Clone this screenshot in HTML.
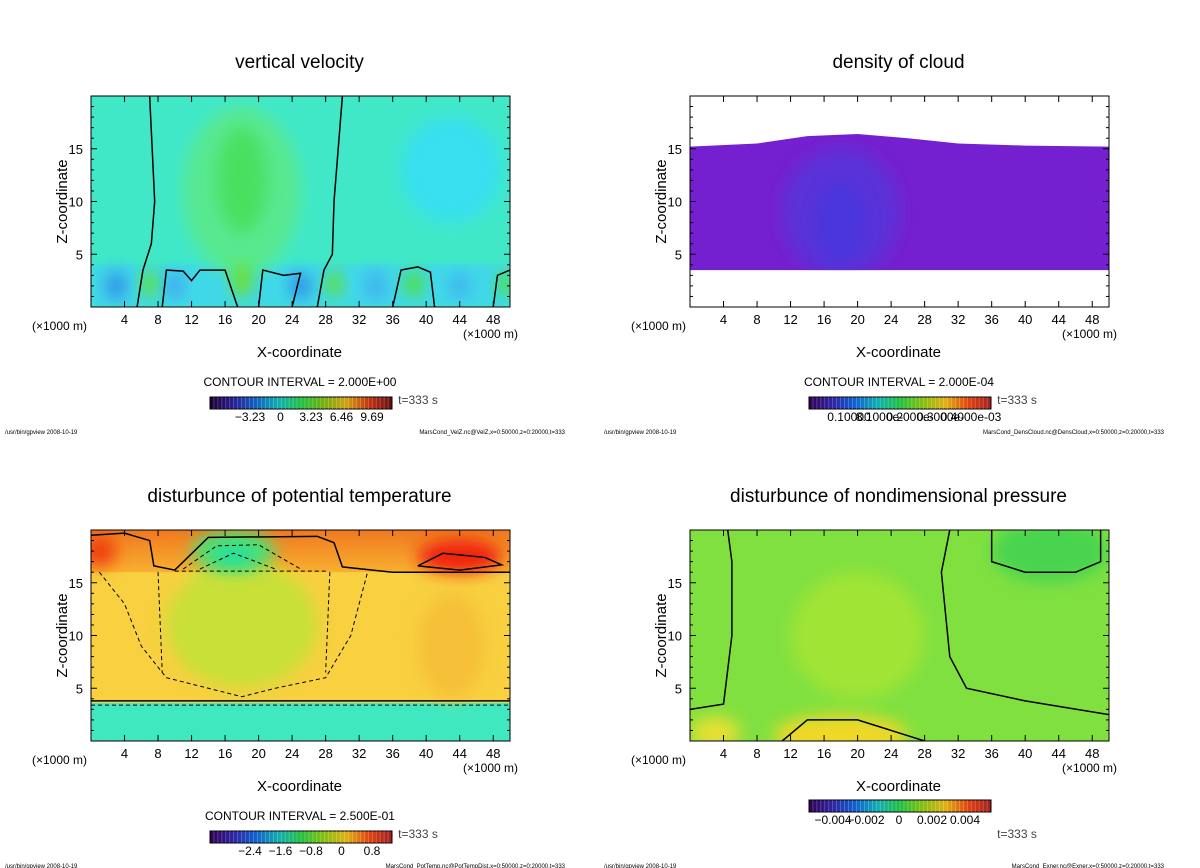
<!DOCTYPE html>
<html><head><meta charset="utf-8"><style>
body{margin:0;background:#fff;}
svg{display:block;font-family:"Liberation Sans",sans-serif;}
</style></head><body>
<svg id="root" width="1200" height="868" viewBox="0 0 1200 868" xmlns="http://www.w3.org/2000/svg">
<defs>
<filter id="blur6" x="-50%" y="-50%" width="200%" height="200%"><feGaussianBlur stdDeviation="8"/></filter>
<filter id="blur3" x="-50%" y="-50%" width="200%" height="200%"><feGaussianBlur stdDeviation="3"/></filter>
<linearGradient id="cbar" x1="0" x2="1" y1="0" y2="0">
<stop offset="0" stop-color="#1a0030"/><stop offset="0.12" stop-color="#2a1a90"/><stop offset="0.25" stop-color="#1060c0"/>
<stop offset="0.38" stop-color="#10b0b0"/><stop offset="0.5" stop-color="#20c040"/><stop offset="0.62" stop-color="#70b010"/>
<stop offset="0.75" stop-color="#d0a010"/><stop offset="0.88" stop-color="#c03010"/><stop offset="1" stop-color="#601010"/>
</linearGradient>
<linearGradient id="cbar2" x1="0" x2="1" y1="0" y2="0">
<stop offset="0" stop-color="#300050"/><stop offset="0.12" stop-color="#3020a0"/><stop offset="0.25" stop-color="#1060d0"/>
<stop offset="0.38" stop-color="#10b0b0"/><stop offset="0.5" stop-color="#20c040"/><stop offset="0.62" stop-color="#80c010"/>
<stop offset="0.75" stop-color="#e0b010"/><stop offset="0.88" stop-color="#e04010"/><stop offset="1" stop-color="#a02020"/>
</linearGradient>
<linearGradient id="blTop" x1="0" x2="0" y1="0" y2="1">
<stop offset="0" stop-color="#f07820"/><stop offset="1" stop-color="#f8b030"/>
</linearGradient>
</defs>
</svg>
<script>
const NS="http://www.w3.org/2000/svg";
const root=document.getElementById('root');
const xTicks=[4,8,12,16,20,24,28,32,36,40,44,48];
const zTicks=[5,10,15];
const titles=["vertical velocity","density of cloud","disturbunce of potential temperature","disturbunce of nondimensional pressure"];
const intervals=["CONTOUR INTERVAL = 2.000E+00","CONTOUR INTERVAL = 2.000E-04","CONTOUR INTERVAL = 2.500E-01",""];
const cbarLabels=[["−3.23","0","3.23","6.46","9.69"],["0.10000","8.1000e-","0.2000e-","0.3000e-","0.4000e-03"],["−2.4","−1.6","−0.8","0","0.8"],["−0.004","−0.002","0","0.002","0.004"]];
const files=["MarsCond_VelZ.nc@VelZ,x=0:50000,z=0:20000,t=333","MarsCond_DensCloud.nc@DensCloud,x=0:50000,z=0:20000,t=333","MarsCond_PotTemp.nc@PotTempDist,x=0:50000,z=0:20000,t=333","MarsCond_Exner.nc@Exner,x=0:50000,z=0:20000,t=333"];
// blobs: [x, z, rx, rz, color]
const velBlobs=[[18,11,7,8,"#58e890"],[18,12,3,5,"#48e060"],[43,13,6,5,"#38e0f0"],[7,2.2,1,1.3,"#60e030"],[18,2.5,1.2,1.6,"#70e020"],[29,2.2,1,1.3,"#60e030"],[38.5,2.2,1.2,1.3,"#50e040"],[49.5,2.2,1,1.2,"#50e040"],[3,2,1.2,1.4,"#3090e8"],[10,2,1,1.2,"#40a0f0"],[25,2,1.3,1.3,"#3090e8"],[34,2,1.3,1.4,"#40b0f0"],[44,2,1.2,1.2,"#40b0f0"]];
const densBlobs=[[18,9,7,6,"#5a30d8"],[18,8,3,4,"#4a34dc"]];
const tempBlobs=[[18,11,9,6,"#c8e038"],[17,18,5,2,"#50e070"],[17,17.6,2.5,1,"#20e0a0"],[44,17.5,5,1.6,"#f02010"],[1,18,2,1.5,"#f04010"],[43,9,4,5,"#f6c038"]];
const presBlobs=[[43,18,7,3,"#48d450"],[20,10,8,6,"#a0e434"],[18,0.5,8,2,"#f0d828"],[3,0.8,3,1.5,"#e8e030"]];
// contour lines (data coords)
const velLines=[[[7,20],[7.3,15],[7.6,10],[7.2,6],[6.2,3.5],[5.5,0]],[[30,20],[29.5,15],[29,10],[28.8,5],[27.8,3.5],[27,0]],[[17.5,0],[16,3.5],[13,3.5],[12,2.5],[11,3.4],[9,3.5],[8.5,0]],[[20,0],[20.5,3.5],[23,3],[25,3.2],[24,0]],[[36,0],[37,3.5],[39,3.8],[40.5,3.3],[41,0]],[[48,0],[48.5,3],[50,3.5]]];
const tempSolid=[[[0,19.5],[4,19.7],[7,19],[7.5,16.6],[10,16.2],[14,19.3],[27,19.4],[29,18.8],[30,16.5],[36,16],[50,16]],[[0,3.8],[50,3.8]],[[39,16.6],[42,17.8],[47,17.4],[49,16.7],[44,16.2],[39,16.6]]];
const tempDash=[[[10,16.1],[28,16.1]],[[11,16.3],[15,18.5],[20,18.6],[25,16.3]],[[13,16.3],[17,17.8],[22,16.3]],[[1,16],[4,13],[6,9],[9,6],[14,5],[18,4.2],[22,5],[28,6],[31,10],[33,16]],[[8,16],[8.5,6.5]],[[28.5,16],[28,6.5]],[[0,3.4],[50,3.4]]];
const presLines=[[[0,3],[4,3.5],[5,10],[5,17],[4.5,20]],[[11,0],[14,2],[20,2],[24,1],[28,0]],[[31,20],[30,16],[31,8],[33,5],[40,3.8],[50,2.5]],[[36,20],[36,17],[40,16],[46,16],[49,17],[49,20]]];

const panels=[
 {x0:91,y0:96,fill:"#40e8c8",blobs:velBlobs,solid:velLines,dash:[]},
 {x0:690,y0:96,fill:"#ffffff",blobs:densBlobs,solid:[],dash:[]},
 {x0:91,y0:530,fill:"#f8d040",blobs:tempBlobs,solid:tempSolid,dash:tempDash},
 {x0:690,y0:530,fill:"#80e040",blobs:presBlobs,solid:presLines,dash:[]}];
const W=419,H=211;
function el(tag,attrs,parent){const e=document.createElementNS(NS,tag);for(const k in attrs)e.setAttribute(k,attrs[k]);(parent||root).appendChild(e);return e;}
function txt(s,x,y,size,anchor,parent){const t=el('text',{x:x,y:y,'font-size':size,'text-anchor':anchor||'middle',fill:'#000'},parent);t.textContent=s;return t;}

panels.forEach((p,i)=>{
 const sx=x=>p.x0+x/50*W, sz=z=>p.y0+H-z/20*H;
 const g=el('g',{});
 
 
 const cid='clip'+i;
 const cp=el('clipPath',{id:cid},g);el('rect',{x:p.x0,y:p.y0,width:W,height:H},cp);
 const f=el('g',{'clip-path':'url(#'+cid+')'},g);
 
 
 el('rect',{x:p.x0,y:p.y0,width:W,height:H,fill:p.fill},f);
 if(i===0){el('rect',{x:p.x0,y:sz(4),width:W,height:sz(0)-sz(4),fill:"#40d8e8",filter:"url(#blur3)"},f);}
 let dclip=null;
 if(i===1){const pts=[[0,15.2],[8,15.5],[14,16.2],[20,16.4],[26,16],[32,15.5],[40,15.3],[50,15.2],[50,3.5],[0,3.5]];
  const ps=pts.map(q=>sx(q[0])+','+sz(q[1])).join(' ');
  el('polygon',{points:ps,fill:"#7420d0"},f);
  const dc=el('clipPath',{id:'dclip'},g);el('polygon',{points:ps},dc);
  dclip=el('g',{'clip-path':'url(#dclip)'},f);}
 if(i===2){el('rect',{x:p.x0,y:p.y0,width:W,height:sz(16)-p.y0,fill:"url(#blTop)"},f);
  el('rect',{x:p.x0,y:sz(3.6),width:W,height:sz(0)-sz(3.6),fill:"#40e8c0"},f);}
 p.blobs.forEach(b=>{el('ellipse',{cx:sx(b[0]),cy:sz(b[1]),rx:b[2]/50*W,ry:b[3]/20*H,fill:b[4],filter:"url(#blur6)"},dclip||f);});
 p.solid.forEach(l=>{const pl=el('polyline',{points:l.map(q=>sx(q[0])+','+sz(q[1])).join(' '),fill:'none',stroke:'#000','stroke-width':1.5},f);
  
  });
 p.dash.forEach(l=>{const pl=el('polyline',{points:l.map(q=>sx(q[0])+','+sz(q[1])).join(' '),fill:'none',stroke:'#000','stroke-width':1,'stroke-dasharray':'4,3'},f);
  
  });
 el('rect',{x:p.x0,y:p.y0,width:W,height:H,fill:'none',stroke:'#000','stroke-width':1},g);
 xTicks.forEach(v=>{el('line',{x1:sx(v),x2:sx(v),y1:p.y0+H,y2:p.y0+H-6,stroke:'#000'},g);el('line',{x1:sx(v),x2:sx(v),y1:p.y0,y2:p.y0+6,stroke:'#000'},g);
  const t=txt(String(v),sx(v),p.y0+H+17,13,'middle',g);
  
  });
 for(let z=1;z<20;z++){const L=z%5===0?6:3;el('line',{x1:p.x0,x2:p.x0+L,y1:sz(z),y2:sz(z),stroke:'#000'},g);el('line',{x1:p.x0+W,x2:p.x0+W-L,y1:sz(z),y2:sz(z),stroke:'#000'},g);}
 zTicks.forEach(v=>{const t=txt(String(v),p.x0-8,sz(v)+5,13,'end',g);
  
  });
 const cx=p.x0+W/2-1;
 const tt=txt(titles[i],cx,p.y0-28,19,'middle',g);
 
 
 const xl=txt('X-coordinate',cx,p.y0+H+50,15,'middle',g);
 
 
 const zl=txt('Z-coordinate',0,0,15,'middle',g);zl.setAttribute('transform','translate('+(p.x0-24)+','+(p.y0+H/2)+') rotate(-90)');
 
 
 const u1=txt('(×1000 m)',p.x0-59,p.y0+H+23,12,'start',g);
 
 
 const u2=txt('(×1000 m)',p.x0+W+8,p.y0+H+31,12,'end',g);
 
 
 const cbY=(i===3)?p.y0+H+59:p.y0+H+90, cbX=p.x0+119;
 if(intervals[i]){const ci=txt(intervals[i],p.x0+209,p.y0+H+79,12,'middle',g);
  
  }
 const cb=el('rect',{x:cbX,y:cbY,width:182,height:12,fill:i===0?'url(#cbar)':'url(#cbar2)',stroke:'#000'},g);
 
 
 for(let k=1;k<46;k++){el('line',{x1:cbX+k*182/46,x2:cbX+k*182/46,y1:cbY,y2:cbY+12,stroke:'#fff','stroke-opacity':0.35,'stroke-width':0.6},g);}
 const labs=cbarLabels[i];
 const st=i===3?24:40, sp=i===3?33:30.5;
 labs.forEach((s,k)=>{const t=txt(s,cbX+st+k*sp,cbY+24,12,'middle',g);
  
  });
 const tm=txt('t=333 s',p.x0+327,p.y0+H+97,12,'middle',g);
 tm.setAttribute('fill','#444');
 
 
 const pr=txt('/usr/bin/gpview  2008-10-19',p.x0-86,p.y0+H+127,6,'start',g);
 
 
 const fl=txt(files[i],p.x0+W+55,p.y0+H+127,6,'end',g);
 
 
});
</script>
</body></html>
